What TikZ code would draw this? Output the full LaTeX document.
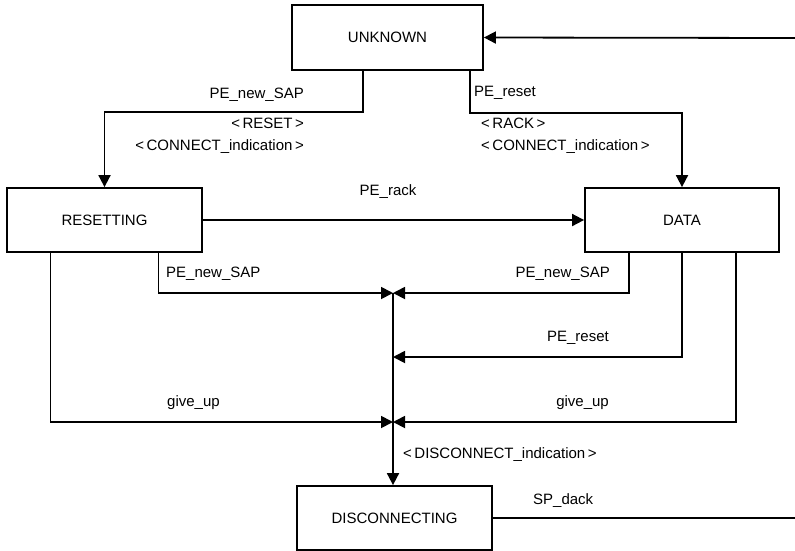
\documentclass[tikz,border=0pt]{standalone}
\usepackage{fontspec}
\setmainfont{Liberation Sans}
\usetikzlibrary{arrows.meta, positioning}

\begin{document}
\begin{tikzpicture}[x=1pt, y=-1pt,
    font=\fontsize{15}{22}\selectfont,
    box/.style={draw, line width=1.8pt, inner sep=0pt},
    lbl/.style={inner sep=0pt},
    flow/.style={-{Triangle[length=12pt, width=12pt]}, line width=1.8pt},
    line/.style={line width=1.8pt}]
  \useasboundingbox (0,0) rectangle (795,550);
  % states
  \node[box, minimum width=191pt, minimum height=65pt] (unknown) at (387.5,37.5) {UNKNOWN};
  \node[box, minimum width=195pt, minimum height=64pt] (resetting) at (104.5,220) {RESETTING};
  \node[box, minimum width=194pt, minimum height=64pt] (data) at (682,220) {DATA};
  \node[box, minimum width=195pt, minimum height=64pt] (disconnecting) at (394.5,518) {DISCONNECTING};
  % merge points and free ends
  \coordinate (j1) at (393,293);
  \coordinate (j2) at (393,357);
  \coordinate (j3) at (393,422);
  \coordinate (outU) at (795,38);
  \coordinate (outD) at (795,518);
  % transitions
  \draw[flow] ([xshift=-24.5pt]unknown.south) -- ++(0,41) -| (resetting.north);
  \draw[flow] ([xshift=82.5pt]unknown.south) -- ++(0,42) -| (data.north);
  \draw[flow] (resetting.east) -- (data.west);
  \draw[flow] ([xshift=54pt]resetting.south) |- (j1);
  \draw[flow] ([xshift=-54pt]resetting.south) |- (j3);
  \draw[flow] ([xshift=-53pt]data.south) |- (j1);
  \draw[flow] (data.south) |- (j2);
  \draw[flow] ([xshift=54pt]data.south) |- (j3);
  \draw[flow] (j1) -- (j1 |- disconnecting.north);
  \draw[line] (disconnecting.east) -- (outD);
  \draw[flow] (outU) -- (unknown.east);
  % labels
  \node[lbl, anchor=east] (lNewSapU) at (304,95) {PE\_new\_SAP};
  \node[lbl, anchor=east, align=right] (lResetCon) at (304,136) {<\,RESET\,>\\<\,CONNECT\_indication\,>};
  \node[lbl, anchor=west] (lResetU) at (474,93) {PE\_reset};
  \node[lbl, anchor=west, align=left] (lRackCon) at (481,136) {<\,RACK\,>\\<\,CONNECT\_indication\,>};
  \node[lbl] (lRack) at (388,192) {PE\_rack};
  \node[lbl, anchor=west] (lNewSapL) at (166,274) {PE\_new\_SAP};
  \node[lbl, anchor=east] (lNewSapR) at (610,274) {PE\_new\_SAP};
  \node[lbl, anchor=east] (lResetR) at (609,338) {PE\_reset};
  \node[lbl, anchor=west] (lGiveL) at (167,403) {give\_up};
  \node[lbl, anchor=east] (lGiveR) at (609,403) {give\_up};
  \node[lbl, anchor=west] (lDisc) at (403,455) {<\,DISCONNECT\_indication\,>};
  \node[lbl, anchor=west] (lDack) at (533,501) {SP\_dack};
\end{tikzpicture}
\end{document}
